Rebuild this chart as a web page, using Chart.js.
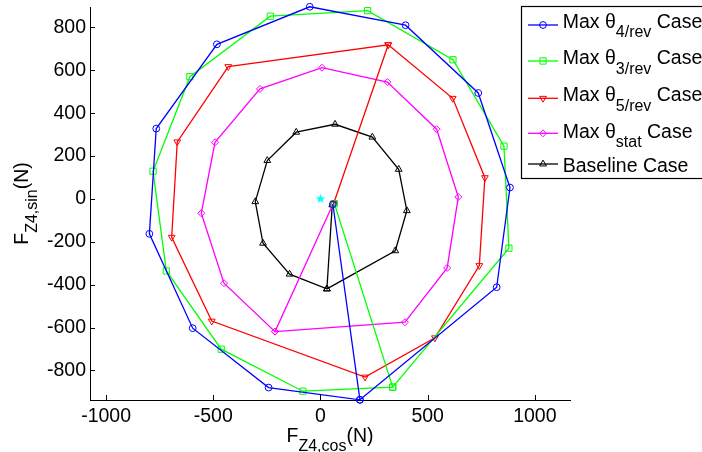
<!DOCTYPE html>
<html>
<head>
<meta charset="utf-8">
<script src="https://cdn.jsdelivr.net/npm/chart.js@4.4.0/dist/chart.umd.min.js"></script>
<style>
	html, body { margin: 0; padding: 0; background: #fff; }
	#wrap { width: 702px; height: 452px; }
</style>
</head>
<body>
<div id="wrap"><canvas id="myChart" width="702" height="452"></canvas></div>
<script>
var FONT = '"Liberation Sans", Arial, Helvetica, sans-serif';
var MAIN = 19.5, SUB = 16, DROP = 9.5;

var xTicks = [-1000, -500, 0, 500, 1000];
var yTicks = [-800, -600, -400, -200, 0, 200, 400, 600, 800];

// legend texts: [before subscript, subscript, after]
var names = [
	["Max \u03b8", "4/rev", " Case"],
	["Max \u03b8", "3/rev", " Case"],
	["Max \u03b8", "5/rev", " Case"],
	["Max \u03b8", "stat", " Case"],
	["Baseline Case", "", ""]
];

// each path starts at the centre, then runs round and closes
var rev4X = [58, 184, -242, -596, -798, -766, -483, -50, 397, 736, 884, 822, 184];
var rev4Y = [-25, -937, -880, -603, -163, 328, 721, 896, 810, 494, 53, -412, -937];

var rev3X = [65, 337, -82, -463, -719, -781, -609, -234, 220, 618, 856, 879, 337];
var rev3Y = [-22, -878, -897, -701, -336, 129, 570, 852, 878, 649, 246, -230, -878];

var rev5X = [62, 316, -430, -668, -694, -507, 208, 534, 741, 767, 617, 316];
var rev5Y = [-20, 719, 617, 266, -179, -570, -831, -648, -311, 99, 469, 719];

var statX = [58, -212, -450, -556, -492, -282, 7, 312, 542, 643, 591, 394, -212];
var statY = [-25, -619, -393, -67, 264, 513, 612, 545, 325, 9, -322, -575, -619];

var baseX = [55, 30, -144, -268, -304, -248, -113, 68, 242, 365, 403, 349, 30];
var baseY = [-28, -420, -351, -207, -13, 179, 311, 348, 288, 138, -55, -242, -420];

var originX = [0];
var originY = [0];

var colors = ["#0000ff", "#00ff00", "#ff0000", "#ff00ff", "#000000"];
var styles = [
	{pointStyle: "circle", radius: 3.4, rotation: 0},
	{pointStyle: "rect", radius: 4.4, rotation: 0},
	{pointStyle: "triangle", radius: 3.9, rotation: 180},
	{pointStyle: "rectRot", radius: 3.5, rotation: 0},
	{pointStyle: "triangle", radius: 3.9, rotation: 0}
];

function toPoints(xs, ys){
	var pts = [];
	for (var i = 0; i < xs.length; i++){
		pts.push({x: xs[i], y: ys[i]});
	}
	return pts;
}

// filled five point star for the origin marker
function makeStar(){
	var c = document.createElement("canvas");
	c.width = 11; c.height = 11;
	var g = c.getContext("2d");
	g.fillStyle = "#00ffff";
	g.beginPath();
	for (var i = 0; i < 10; i++){
		var r = (i % 2 == 0) ? 5 : 2.1;
		var a = -Math.PI / 2 + i * Math.PI / 5;
		var px = 5.5 + r * Math.cos(a), py = 5.5 + r * Math.sin(a);
		if (i == 0) g.moveTo(px, py); else g.lineTo(px, py);
	}
	g.closePath();
	g.fill();
	return c;
}

var series = [
	toPoints(rev4X, rev4Y),
	toPoints(rev3X, rev3Y),
	toPoints(rev5X, rev5Y),
	toPoints(statX, statY),
	toPoints(baseX, baseY)
];

var datasets = series.map(function(pts, i){
	return {
		data: pts,
		showLine: true,
		borderColor: colors[i],
		borderWidth: 1.3,
		backgroundColor: "rgba(0,0,0,0)",
		pointBorderColor: colors[i],
		pointBackgroundColor: "rgba(0,0,0,0)",
		pointBorderWidth: 1,
		pointStyle: styles[i].pointStyle,
		pointRadius: styles[i].radius,
		pointRotation: styles[i].rotation,
		tension: 0,
		clip: false
	};
});

datasets.push({
	data: toPoints(originX, originY),
	showLine: false,
	pointStyle: makeStar(),
	clip: false
});

// draws text with one subscript part
function drawSubText(ctx, x, y, parts){
	ctx.textBaseline = "alphabetic";
	ctx.textAlign = "left";
	ctx.font = MAIN + "px " + FONT;
	ctx.fillText(parts[0], x, y);
	x += ctx.measureText(parts[0]).width;
	if (parts[1]){
		ctx.font = SUB + "px " + FONT;
		ctx.fillText(parts[1], x, y + DROP);
		x += ctx.measureText(parts[1]).width;
	}
	ctx.font = MAIN + "px " + FONT;
	ctx.fillText(parts[2], x, y);
}

function subTextWidth(ctx, parts){
	ctx.font = MAIN + "px " + FONT;
	var w = ctx.measureText(parts[0]).width + ctx.measureText(parts[2]).width;
	ctx.font = SUB + "px " + FONT;
	return w + (parts[1] ? ctx.measureText(parts[1]).width : 0);
}

// matlab style ticks pointing into the plot
var innerTicks = {
	id: "innerTicks",
	afterDatasetsDraw: function(chart){
		var ctx = chart.ctx, area = chart.chartArea;
		var xs = chart.scales.x, ys = chart.scales.y;
		ctx.save();
		ctx.strokeStyle = "#000";
		ctx.lineWidth = 1;
		ctx.beginPath();
		xs.ticks.forEach(function(t){
			var px = Math.round(xs.getPixelForValue(t.value)) + 0.5;
			ctx.moveTo(px, area.bottom);
			ctx.lineTo(px, area.bottom - 5);
		});
		ys.ticks.forEach(function(t){
			var py = Math.round(ys.getPixelForValue(t.value)) + 0.5;
			ctx.moveTo(area.left, py);
			ctx.lineTo(area.left + 5, py);
		});
		ctx.stroke();
		ctx.restore();
	}
};

var titles = {
	id: "titles",
	afterDraw: function(chart){
		var ctx = chart.ctx, area = chart.chartArea;
		ctx.save();
		ctx.fillStyle = "#000";
		var xp = ["F", "Z4,cos", "(N)"];
		var w = subTextWidth(ctx, xp);
		drawSubText(ctx, (area.left + area.right) / 2 - w / 2, 441.7, xp);

		var yp = ["F", "Z4,sin", "(N)"];
		w = subTextWidth(ctx, yp);
		ctx.translate(27.5, (area.top + area.bottom) / 2);
		ctx.rotate(-Math.PI / 2);
		drawSubText(ctx, -w / 2, 0, yp);
		ctx.restore();
	}
};

var legendBox = {
	id: "legendBox",
	afterDraw: function(chart){
		var ctx = chart.ctx;
		var lineY = [25, 61, 98.3, 133.3, 164];
		var textY = [27.7, 64.3, 101, 137.7, 172.3];
		ctx.save();
		ctx.fillStyle = "#fff";
		ctx.fillRect(521.5, 6.5, 200, 172);
		ctx.strokeStyle = "#000";
		ctx.lineWidth = 1.2;
		ctx.strokeRect(521.5, 6.5, 200, 172);

		for (var i = 0; i < names.length; i++){
			ctx.strokeStyle = colors[i];
			ctx.lineWidth = 1.3;
			ctx.beginPath();
			ctx.moveTo(528, lineY[i]);
			ctx.lineTo(558, lineY[i]);
			ctx.stroke();

			ctx.lineWidth = 1;
			ctx.fillStyle = "rgba(0,0,0,0)";
			Chart.helpers.drawPoint(ctx, {
				pointStyle: styles[i].pointStyle,
				radius: styles[i].radius,
				rotation: styles[i].rotation,
				borderWidth: 1
			}, 543, lineY[i]);

			ctx.fillStyle = "#000";
			drawSubText(ctx, 562.7, textY[i], names[i]);
		}
		ctx.restore();
	}
};

var ctx = document.getElementById("myChart").getContext("2d");
var myChart = new Chart(ctx, {
	type: "scatter",
	data: {datasets: datasets},
	options: {
		responsive: false,
		animation: false,
		devicePixelRatio: 1,
		layout: {padding: {left: 0, right: 132, top: 7, bottom: 0}},
		plugins: {legend: {display: false}, tooltip: {enabled: false}},
		scales: {
			x: {
				type: "linear",
				min: -1075,
				max: 1164,
				afterBuildTicks: function(s){
					s.ticks = xTicks.map(function(v){ return {value: v}; });
				},
				afterFit: function(s){
					s.height = 52;
					s.paddingLeft = 0; s.paddingRight = 0;
				},
				grid: {display: false, drawTicks: false},
				border: {display: true, color: "#000", width: 1},
				ticks: {color: "#000", padding: 5, maxRotation: 0, autoSkip: false,
					font: {family: FONT, size: MAIN},
					callback: function(v){ return String(v); }}
			},
			y: {
				type: "linear",
				min: -938,
				max: 895,
				afterBuildTicks: function(s){
					s.ticks = yTicks.map(function(v){ return {value: v}; });
				},
				afterFit: function(s){
					s.width = 90;
					s.paddingTop = 0; s.paddingBottom = 0;
				},
				grid: {display: false, drawTicks: false},
				border: {display: true, color: "#000", width: 1},
				ticks: {color: "#000", padding: 4, autoSkip: false,
					font: {family: FONT, size: MAIN},
					callback: function(v){ return String(v); }}
			}
		}
	},
	plugins: [innerTicks, legendBox, titles]
});
</script>
</body>
</html>
